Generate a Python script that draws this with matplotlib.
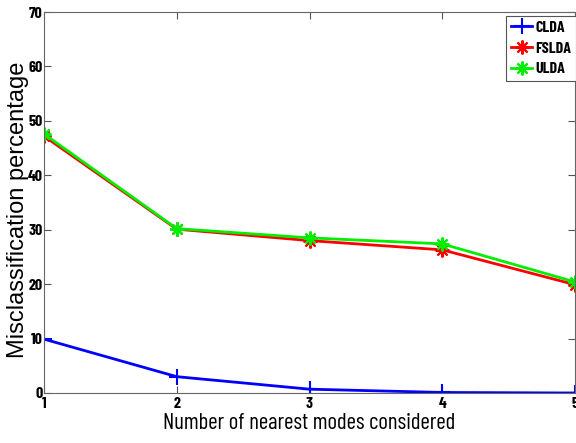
import matplotlib
matplotlib.use("Agg")
import matplotlib.pyplot as plt
from matplotlib import font_manager

x_vals = [1, 2, 3, 4, 5]
clda = [9.9, 3.0, 0.7, 0.1, 0.0]
fslda = [47.2, 30.1, 28.0, 26.3, 19.9]
ulda = [47.6, 30.2, 28.5, 27.4, 20.4]
series_names = ["CLDA", "FSLDA", "ULDA"]
y_ticks = [0, 10, 20, 30, 40, 50, 60, 70]
x_title = "Number of nearest modes considered"
y_title = "Misclassification percentage"

names = {f.name for f in font_manager.fontManager.ttflist}
def pick(cands):
    for c in cands:
        if c in names:
            return c
    return "DejaVu Sans"
narrow = pick(["Liberation Sans Narrow", "Barlow Condensed"])
narrow_stretch = "normal" if narrow != "DejaVu Sans" else "condensed"
wide = pick(["Liberation Sans", "Arimo"])

fig = plt.figure(figsize=(5.76, 4.43), dpi=100)
ax = fig.add_axes([44/576, 1 - 393/443, (575-44)/576, (393-12)/443])

ast = (8, 2, 0)
ax.plot(x_vals, clda, color="#0000ff", lw=2, marker="+", ms=11, mew=1.5, label=series_names[0])
ax.plot(x_vals, fslda, color="#ff0000", lw=2, marker=ast, ms=10, mew=1.5, label=series_names[1])
ax.plot(x_vals, ulda, color="#00ee00", lw=2, marker=ast, ms=10, mew=1.5, label=series_names[2])

ax.set_xlim(1, 5)
ax.set_ylim(0, 70)
ax.set_xticks(x_vals)
ax.set_yticks(y_ticks)
ax.tick_params(direction="in", top=True, right=True, length=5, width=0.8, color="#555555")
ax.tick_params(axis="x", pad=3)
ax.tick_params(axis="y", pad=1)
for lab in ax.get_xticklabels() + ax.get_yticklabels():
    lab.set_fontfamily(narrow)
    lab.set_fontstretch(narrow_stretch)
    lab.set_fontweight("bold")
    lab.set_fontsize(11.5)
for s in ax.spines.values():
    s.set_color("#666666")
    s.set_linewidth(0.8)

ax.set_xlabel(x_title, fontfamily=narrow, fontstretch=narrow_stretch, fontsize=16.5, va="top")
ax.xaxis.set_label_coords(0.5, (393 - 413) / 381)
ax.set_ylabel(y_title, fontfamily=wide, fontsize=17, va="center")
ax.yaxis.set_label_coords((18 - 44) / 531, 0.48)

leg = ax.legend(loc="upper right", bbox_to_anchor=(576/576, 1 - 16/443), bbox_transform=fig.transFigure,
                prop={"family": narrow, "stretch": narrow_stretch, "weight": "bold", "size": 11.5},
                fancybox=False, edgecolor="#555555", framealpha=1, borderpad=0.3,
                handlelength=1.3, handletextpad=0.2, labelspacing=0.4, borderaxespad=0)
leg.get_frame().set_linewidth(0.8)

fig.savefig("out.png", dpi=100)
